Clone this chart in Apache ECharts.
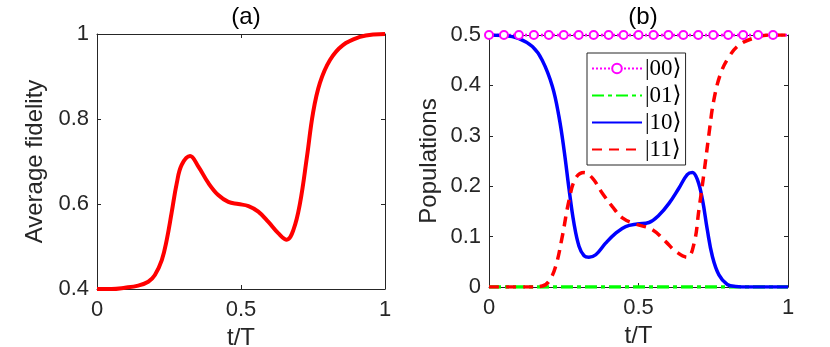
<!DOCTYPE html>
<html>
<head>
<meta charset="utf-8">
<script src="https://cdn.jsdelivr.net/npm/echarts@6/dist/echarts.min.js"></script>
<style>
  html, body { margin: 0; padding: 0; background: #fff; }
  #chart { width: 830px; height: 347px; }
</style>
</head>
<body>
<div id="chart"></div>
<script>
// panel (a): average fidelity
let fidT = [0, 0.05, 0.097, 0.143, 0.178, 0.201, 0.225, 0.242, 0.259, 0.277, 0.294, 0.323, 0.352, 0.387, 0.421, 0.456, 0.491, 0.526, 0.56, 0.595, 0.63, 0.659, 0.682, 0.705, 0.729, 0.75, 0.774, 0.809, 0.854, 0.913, 0.96, 1]
let fidVal = [0.4, 0.4, 0.403, 0.408, 0.417, 0.433, 0.468, 0.515, 0.579, 0.649, 0.692, 0.713, 0.688, 0.649, 0.621, 0.605, 0.6, 0.595, 0.582, 0.558, 0.531, 0.516, 0.539, 0.602, 0.711, 0.814, 0.885, 0.939, 0.974, 0.993, 0.999, 1]

// panel (b): populations
let p00T = [0, 0.05, 0.1, 0.15, 0.2, 0.25, 0.3, 0.35, 0.4, 0.45, 0.5, 0.55, 0.6, 0.65, 0.7, 0.75, 0.8, 0.85, 0.9, 0.95, 1]
let p00Val = [0.5, 0.5, 0.5, 0.5, 0.5, 0.5, 0.5, 0.5, 0.5, 0.5, 0.5, 0.5, 0.5, 0.5, 0.5, 0.5, 0.5, 0.5, 0.5, 0.5, 0.5]
let p01T = [0, 1]
let p01Val = [0, 0]
let p10T = [0, 0.05, 0.1, 0.145, 0.178, 0.212, 0.234, 0.251, 0.268, 0.284, 0.301, 0.318, 0.334, 0.357, 0.39, 0.424, 0.457, 0.496, 0.535, 0.569, 0.602, 0.635, 0.663, 0.68, 0.697, 0.714, 0.73, 0.747, 0.769, 0.797, 0.825, 0.87, 1]
let p10Val = [0.5, 0.499, 0.493, 0.477, 0.45, 0.398, 0.338, 0.272, 0.193, 0.127, 0.081, 0.062, 0.059, 0.064, 0.087, 0.107, 0.12, 0.125, 0.128, 0.143, 0.166, 0.196, 0.223, 0.227, 0.213, 0.173, 0.114, 0.061, 0.024, 0.005, 0.001, 0, 0]
let p11T = [0, 0.13, 0.178, 0.2, 0.223, 0.245, 0.268, 0.29, 0.318, 0.346, 0.379, 0.412, 0.446, 0.49, 0.546, 0.591, 0.624, 0.663, 0.686, 0.702, 0.719, 0.736, 0.752, 0.775, 0.803, 0.836, 0.881, 0.936, 1]
let p11Val = [0, 0, 0.002, 0.011, 0.041, 0.1, 0.173, 0.216, 0.227, 0.216, 0.186, 0.16, 0.137, 0.125, 0.114, 0.09, 0.071, 0.059, 0.087, 0.153, 0.226, 0.305, 0.371, 0.424, 0.457, 0.48, 0.493, 0.5, 0.5]

let legendNames = ['|00\u27E9', '|01\u27E9', '|10\u27E9', '|11\u27E9']
let xTicks = [0, 0.5, 1]

const zip = (xs, ys) => xs.map((x, i) => [x, ys[i]])
const axisColor = '#262626'
const font = 'Liberation Sans, Arial, sans-serif'

let chart = echarts.init(document.querySelector('#chart'))

function xAxisFor(gridIndex, bottom) {
    return {
        type: 'value', gridIndex: gridIndex, min: 0, max: 1, interval: 0.5,
        position: bottom ? 'bottom' : 'top',
        name: bottom ? 't/T' : '', nameLocation: 'middle', nameGap: 27,
        nameTextStyle: { color: axisColor, fontSize: 24, fontFamily: font },
        axisLine: { show: true, onZero: false, lineStyle: { color: axisColor, width: 1 } },
        axisTick: { show: true, inside: true, length: 4, lineStyle: { color: axisColor } },
        axisLabel: {
            show: bottom, color: axisColor, fontSize: 22, fontFamily: font, margin: 10,
            formatter: v => xTicks.includes(v) ? String(v) : ''
        },
        splitLine: { show: false }
    }
}

function yAxisFor(gridIndex, left, min, max, interval, name, gap) {
    return {
        type: 'value', gridIndex: gridIndex, min: min, max: max, interval: interval,
        position: left ? 'left' : 'right',
        name: left ? name : '', nameLocation: 'middle', nameGap: gap,
        nameTextStyle: { color: axisColor, fontSize: 24, fontFamily: font },
        axisLine: { show: true, onZero: false, lineStyle: { color: axisColor, width: 1 } },
        axisTick: { show: true, inside: true, length: 4, lineStyle: { color: axisColor } },
        axisLabel: {
            show: left, color: axisColor, fontSize: 22, fontFamily: font, margin: 8,
            formatter: v => String(Math.round(v * 10) / 10)
        },
        splitLine: { show: false }
    }
}

chart.setOption({
    animation: false,
    backgroundColor: '#fff',
    title: [
        { text: '(a)', left: 241, top: 0, textAlign: 'center',
          textStyle: { fontSize: 24, fontWeight: 'normal', color: '#000', fontFamily: font } },
        { text: '(b)', left: 638, top: 0, textAlign: 'center',
          textStyle: { fontSize: 24, fontWeight: 'normal', color: '#000', fontFamily: font } }
    ],
    grid: [
        { left: 97, right: 445, top: 34, bottom: 58, outerBoundsMode: 'none', containLabel: false },
        { left: 489, right: 42, top: 35, bottom: 60, outerBoundsMode: 'none', containLabel: false }
    ],
    xAxis: [
        xAxisFor(0, true), xAxisFor(0, false),
        xAxisFor(1, true), xAxisFor(1, false)
    ],
    yAxis: [
        yAxisFor(0, true, 0.4, 1, 0.2, 'Average fidelity', 50),
        yAxisFor(0, false, 0.4, 1, 0.2, '', 0),
        yAxisFor(1, true, 0, 0.5, 0.1, 'Populations', 48),
        yAxisFor(1, false, 0, 0.5, 0.1, '', 0)
    ],
    legend: {
        orient: 'vertical', left: 587, top: 53,
        data: [
            { name: legendNames[0] },
            { name: legendNames[1], itemStyle: { opacity: 0 } },
            { name: legendNames[2], itemStyle: { opacity: 0 } },
            { name: legendNames[3], itemStyle: { opacity: 0 } }
        ],
        itemWidth: 50, itemHeight: 12, itemGap: 4,
        padding: [4, 4, 4, 4],
        borderColor: axisColor, borderWidth: 1, backgroundColor: '#fff',
        textStyle: { fontSize: 23, fontFamily: 'Liberation Serif, DejaVu Serif, serif', color: '#000', padding: [0, 0, 0, -2] }
    },
    series: [
        {
            name: 'fidelity', type: 'line', xAxisIndex: 0, yAxisIndex: 0,
            data: zip(fidT, fidVal), smooth: 0.4, showSymbol: false,
            lineStyle: { color: '#ff0000', width: 4 }
        },
        {
            name: legendNames[0], type: 'line', xAxisIndex: 2, yAxisIndex: 2,
            data: zip(p00T, p00Val).map((d, i) => i === p00T.length - 1 ? { value: d, symbol: 'none' } : d),
            symbol: 'emptyCircle', symbolSize: 8, showAllSymbol: true,
            itemStyle: { color: '#ff00ff', borderWidth: 3 },
            lineStyle: { color: '#ff00ff', width: 3, type: [2, 2] }
        },
        {
            name: legendNames[1], type: 'line', xAxisIndex: 2, yAxisIndex: 2,
            data: zip(p01T, p01Val), showSymbol: false,
            itemStyle: { color: '#00ff00' },
            lineStyle: { color: '#00ff00', width: 3.5, type: [12, 4, 4, 4] }
        },
        {
            name: legendNames[2], type: 'line', xAxisIndex: 2, yAxisIndex: 2,
            data: zip(p10T, p10Val), smooth: 0.4, showSymbol: false,
            itemStyle: { color: '#0000ff' },
            lineStyle: { color: '#0000ff', width: 3.5 }
        },
        {
            name: legendNames[3], type: 'line', xAxisIndex: 2, yAxisIndex: 2,
            data: zip(p11T, p11Val), smooth: 0.4, showSymbol: false,
            itemStyle: { color: '#ff0000' },
            lineStyle: { color: '#ff0000', width: 3.5, type: [10, 7] }
        }
    ]
})
</script>
</body>
</html>
